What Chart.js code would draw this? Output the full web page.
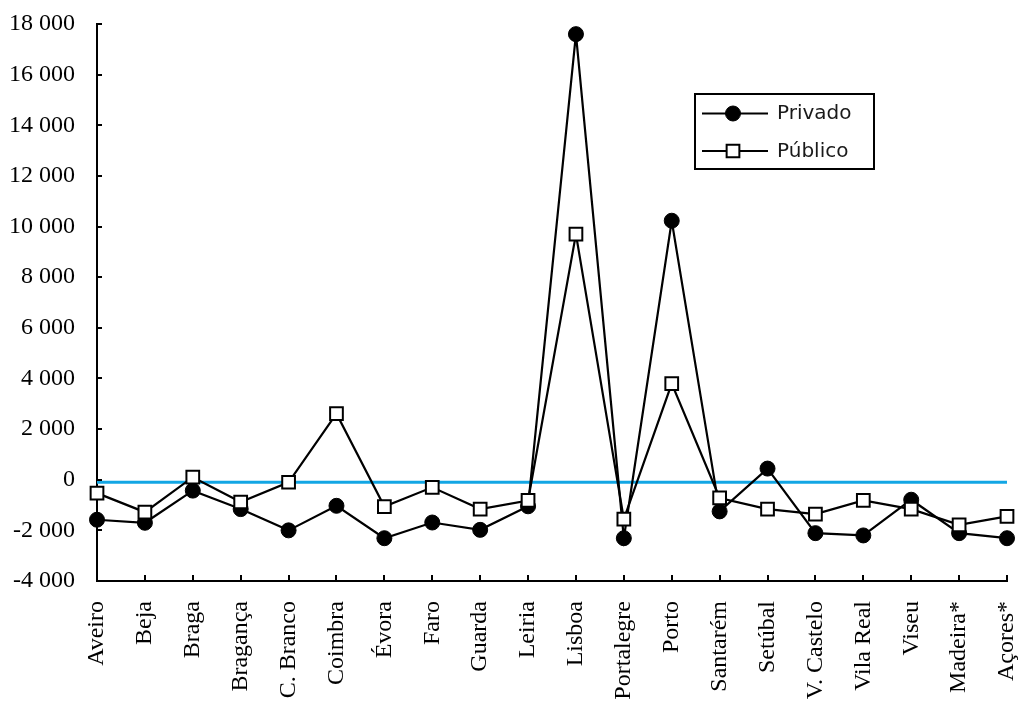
<!DOCTYPE html>
<html>
<head>
<meta charset="utf-8">
<script src="https://cdn.jsdelivr.net/npm/chart.js@4.4.1/dist/chart.umd.min.js"></script>
<style>
  html, body { margin: 0; padding: 0; background: #ffffff; }
  #wrap { width: 1019px; height: 701px; position: relative; }
</style>
</head>
<body>
<div id="wrap"><canvas id="chart" width="1019" height="701"></canvas></div>
<script>
// Districts / regions
const categories = ['Aveiro', 'Beja', 'Braga', 'Bragança', 'C. Branco', 'Coimbra', 'Évora', 'Faro',
  'Guarda', 'Leiria', 'Lisboa', 'Portalegre', 'Porto', 'Santarém', 'Setúbal', 'V. Castelo',
  'Vila Real', 'Viseu', 'Madeira*', 'Açores*'];

// Private sector values
const privado = [-1580, -1700, -430, -1160, -2000, -1030, -2310, -1690, -1980, -1050,
  17600, -2310, 10230, -1250, 440, -2110, -2200, -790, -2110, -2310];

// Public sector values
const publico = [-530, -1280, 100, -880, -100, 2610, -1060, -300, -1160, -820,
  9700, -1560, 3800, -720, -1160, -1360, -820, -1160, -1780, -1450];

// Reference level drawn as a horizontal line across all categories
const referenceLevel = -100;
const referenceLine = categories.map(() => referenceLevel);

// Y axis tick values
const yTicks = [-4000, -2000, 0, 2000, 4000, 6000, 8000, 10000, 12000, 14000, 16000, 18000];

const seriesNames = ['Privado', 'Público'];

function formatThousands(v) {
  const neg = v < 0;
  const s = String(Math.abs(v));
  const parts = [];
  for (let i = s.length; i > 0; i -= 3) parts.unshift(s.slice(Math.max(0, i - 3), i));
  return (neg ? '-' : '') + parts.join(' ');
}

const serifFont = '"Liberation Serif", "Times New Roman", serif';

// Inward tick marks on both axes
const innerTicks = {
  id: 'innerTicks',
  afterDraw(chart) {
    const ctx = chart.ctx;
    const x = chart.scales.x, y = chart.scales.y;
    ctx.save();
    ctx.strokeStyle = '#000';
    ctx.lineWidth = 2;
    ctx.beginPath();
    y.ticks.forEach(t => {
      const py = Math.round(y.getPixelForValue(t.value));
      ctx.moveTo(x.left, py);
      ctx.lineTo(x.left + 5, py);
    });
    categories.forEach((c, i) => {
      const px = Math.round(x.getPixelForValue(i));
      ctx.moveTo(px, y.bottom);
      ctx.lineTo(px, y.bottom - 6);
    });
    ctx.stroke();
    ctx.restore();
  }
};

// Boxed legend inside the plot area
const boxLegend = {
  id: 'boxLegend',
  afterDraw(chart) {
    const ctx = chart.ctx;
    const bx = 695, by = 94, bw = 179, bh = 75;
    ctx.save();
    ctx.strokeStyle = '#000';
    ctx.lineWidth = 2;
    ctx.strokeRect(bx, by, bw, bh);
    const rows = [
      { ds: chart.data.datasets[1], y: 113.5 },
      { ds: chart.data.datasets[2], y: 151 }
    ];
    rows.forEach(r => {
      ctx.strokeStyle = '#000';
      ctx.lineWidth = 2;
      ctx.beginPath();
      ctx.moveTo(702, r.y);
      ctx.lineTo(768, r.y);
      ctx.stroke();
      ctx.fillStyle = r.ds.pointBackgroundColor;
      ctx.strokeStyle = r.ds.pointBorderColor;
      ctx.lineWidth = r.ds.pointBorderWidth;
      Chart.helpers.drawPoint(ctx, {
        pointStyle: r.ds.pointStyle,
        radius: r.ds.pointStyle === 'rect' ? 9 : 7.5,
        rotation: 0,
        borderWidth: r.ds.pointBorderWidth
      }, 733, r.y);
      ctx.fillStyle = '#1a1a1a';
      ctx.font = '20px "DejaVu Sans"';
      ctx.textAlign = 'left';
      ctx.textBaseline = 'middle';
      ctx.fillText(r.ds.label, 777, r.y + 0.5);
    });
    ctx.restore();
  }
};

new Chart(document.getElementById('chart'), {
  type: 'line',
  data: {
    labels: categories,
    datasets: [
      {
        label: 'ref',
        data: referenceLine,
        borderColor: '#12a6e4',
        borderWidth: 3,
        pointRadius: 0,
        order: 3
      },
      {
        label: seriesNames[0],
        data: privado,
        borderColor: '#000',
        borderWidth: 2.2,
        pointStyle: 'circle',
        pointRadius: 7.5,
        pointBackgroundColor: '#000',
        pointBorderColor: '#000',
        pointBorderWidth: 1,
        order: 2
      },
      {
        label: seriesNames[1],
        data: publico,
        borderColor: '#000',
        borderWidth: 2.2,
        pointStyle: 'rect',
        pointRadius: 9,
        pointBackgroundColor: '#fff',
        pointBorderColor: '#000',
        pointBorderWidth: 2,
        order: 1
      }
    ]
  },
  options: {
    responsive: false,
    animation: false,
    layout: { padding: { top: 24, right: 12, left: 0, bottom: 0 } },
    plugins: { legend: { display: false }, tooltip: { enabled: false } },
    elements: { line: { tension: 0 } },
    scales: {
      x: {
        offset: false,
        grid: { display: true, drawOnChartArea: false, drawTicks: false },
        border: { display: true, color: '#000', width: 2 },
        ticks: {
          autoSkip: false,
          maxRotation: 90,
          minRotation: 90,
          padding: 20,
          color: '#000',
          font: { family: serifFont, size: 24 }
        },
        afterFit(scale) {
          scale.height = 120;
          scale.paddingLeft = 0;
          scale.paddingRight = 0;
        }
      },
      y: {
        min: -4000,
        max: 18000,
        afterBuildTicks(scale) { scale.ticks = yTicks.map(v => ({ value: v })); },
        grid: { display: true, drawOnChartArea: false, drawTicks: false },
        border: { display: true, color: '#000', width: 2 },
        ticks: {
          padding: 22,
          color: '#000',
          font: { family: serifFont, size: 24 },
          callback: v => formatThousands(v)
        },
        afterFit(scale) {
          scale.width = 97;
          scale.paddingTop = 0;
          scale.paddingBottom = 0;
        }
      }
    }
  },
  plugins: [innerTicks, boxLegend]
});
</script>
</body>
</html>
